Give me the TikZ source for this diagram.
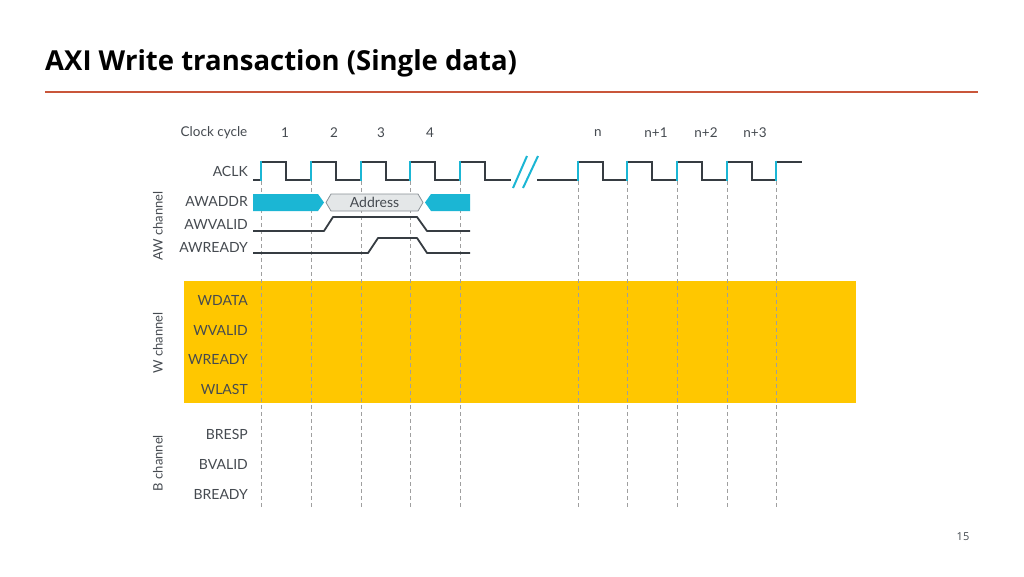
\documentclass[tikz,border=0pt]{standalone}
\usepackage{fontspec}
\setmainfont{Lato}
\newfontfamily\titlefont{Open Sans}
\definecolor{axcyan}{HTML}{1BB6D4}
\definecolor{axyellow}{HTML}{FFC700}
\definecolor{axdark}{HTML}{363C42}
\definecolor{axtext}{HTML}{454A50}
\definecolor{axred}{HTML}{C9563A}
\definecolor{axgrayfill}{HTML}{E4E7E8}
\definecolor{axgrayline}{HTML}{8A9196}
\tikzset{
  sig/.style={text=axtext, font=\fontsize{14}{16}\selectfont, anchor=east, inner sep=0pt},
  cyc/.style={text=axtext, font=\fontsize{13.5}{16}\selectfont, inner sep=0pt},
  chan/.style={text=axtext, font=\fontsize{13}{15}\selectfont, rotate=90, inner sep=0pt},
  clkline/.style={draw=axdark, line width=2.6pt, line join=miter},
  wave/.style={draw=axdark, line width=1.8pt, line join=round},
  edge/.style={draw=axcyan, line width=2.4pt},
  grid/.style={draw=gray!75, line width=0.8pt, dash pattern=on 4pt off 3pt},
  bus/.style={fill=axcyan, draw=none},
  addrbus/.style={fill=axgrayfill, draw=axgrayline, line width=0.8pt}
}
\begin{document}
\begin{tikzpicture}[x=1pt,y=-1pt]
\useasboundingbox (0,0) rectangle (1024,576);
\fill[white] (0,0) rectangle (1024,576);
% title
\node[anchor=base west, inner sep=0pt, font=\titlefont\bfseries\fontsize{27.5}{31}\selectfont, text=black] (title) at (45,70) {AXI Write transaction (Single data)};
\coordinate (rulel) at (45,92);
\coordinate (ruler) at (978,92);
\draw[axred, line width=1.8pt] (rulel) -- (ruler);
% W channel band
\fill[axyellow] (184,281) rectangle (856,403);
% dashed grid lines
\foreach \r in {261,311,361,410,460,578,627,677,727,776}{
  \draw[grid] (\r,181) -- (\r,508);
}
% clock
\draw[clkline] (253,180) foreach \r in {261,311,361,410,460}{ -- (\r,180) -- (\r,162) -- (\r+25,162) -- (\r+25,180) } -- (511,180);
\draw[clkline] (537,180) foreach \r in {578,627,677,727}{ -- (\r,180) -- (\r,162) -- (\r+25,162) -- (\r+25,180) } -- (776,180) -- (776,162) -- (802,162);
\foreach \r in {261,311,361,410,460,578,627,677,727,776}{
  \draw[edge] (\r,160.5) -- (\r,181);
}
% break marks
\draw[axcyan, line width=2pt] (513,188) -- (527,156);
\draw[axcyan, line width=2pt] (523,188) -- (538,156);
% AWADDR
\fill[bus] (253,194) -- (318,194) -- (324,202.5) -- (318,211) -- (253,211) -- cycle;
\draw[addrbus] (326,202.5) -- (331,194) -- (418,194) -- (423,202.5) -- (418,211) -- (331,211) -- cycle;
\node[cyc, font=\fontsize{14}{16}\selectfont] (addr) at (374.5,202.5) {Address};
\fill[bus] (425,202.5) -- (431,194) -- (470,194) -- (470,211) -- (431,211) -- cycle;
% AWVALID
\draw[wave] (253,231) -- (324,231) -- (333,217) -- (417,217) -- (427,231) -- (470,231);
% AWREADY
\draw[wave] (253,253) -- (368,253) -- (378,238) -- (417,238) -- (427,253) -- (470,253);
% cycle labels
\node[cyc] (cc) at (214,133) {Clock cycle};
\node[cyc] (c1) at (285,133) {1};
\node[cyc] (c2) at (334,133) {2};
\node[cyc] (c3) at (381,133) {3};
\node[cyc] (c4) at (430,133) {4};
\node[cyc] (cn) at (598,133) {n};
\node[cyc] (cn1) at (656,133) {n+1};
\node[cyc] (cn2) at (706,133) {n+2};
\node[cyc] (cn3) at (755,133) {n+3};
% signal labels
\node[sig] (aclk) at (248,171) {ACLK};
\node[sig] (awaddr) at (248,201) {AWADDR};
\node[sig] (awvalid) at (248,224) {AWVALID};
\node[sig] (awready) at (248,247) {AWREADY};
\node[sig] (wdata) at (248,300) {WDATA};
\node[sig] (wvalid) at (248,330) {WVALID};
\node[sig] (wready) at (248,359) {WREADY};
\node[sig] (wlast) at (248,389) {WLAST};
\node[sig] (bresp) at (248,434) {BRESP};
\node[sig] (bvalid) at (248,464) {BVALID};
\node[sig] (bready) at (248,494) {BREADY};
% channel labels
\node[chan] (awch) at (158,226) {AW channel};
\node[chan] (wch) at (158,343) {W channel};
\node[chan] (bch) at (158,463) {B channel};
% page number
\node[inner sep=0pt, text=axtext, font=\titlefont\fontsize{11}{13}\selectfont] (page) at (963,537) {15};
\end{tikzpicture}
\end{document}
